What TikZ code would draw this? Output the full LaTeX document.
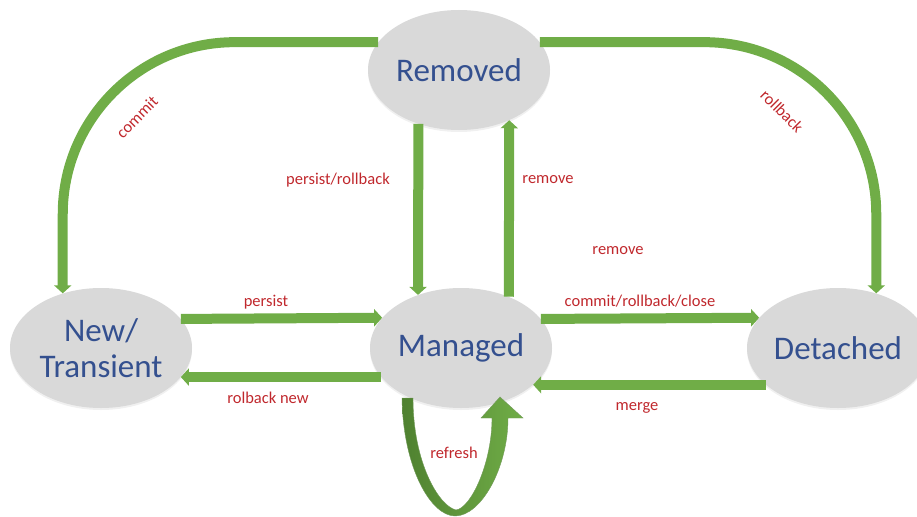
\documentclass[tikz,border=0pt]{standalone}
\usepackage{fontspec}
\setmainfont{Carlito}
\usetikzlibrary{arrows.meta,shapes.geometric,shadows}
\definecolor{grn}{HTML}{70AD47}
\definecolor{grndark}{HTML}{4F8130}
\definecolor{statefill}{HTML}{D9D9D9}
\definecolor{statetext}{HTML}{34508F}
\definecolor{lblred}{HTML}{C0282D}
\tikzset{
  state/.style={ellipse, fill=statefill, minimum width=182pt, minimum height=120pt,
    inner sep=0pt, text=statetext, align=center,
    font=\fontsize{33}{36}\selectfont,
    drop shadow={opacity=0.12, shadow xshift=0pt, shadow yshift=-2pt}},
  arr/.style={draw=grn, line width=10pt, -{Triangle[length=8pt,width=17pt]}},
  lbl/.style={text=lblred, inner sep=0pt, font=\fontsize{16.5}{18}\selectfont}
}
\begin{document}
\begin{tikzpicture}[x=1pt,y=-1pt]
\useasboundingbox (0,0) rectangle (917,516);

% states
\node[state] (removed)  at (459,70)  {Removed};
\node[state] (managed)  at (461,348) {Managed};
\node[state] (new)      at (101,348) {New/\\Transient};
\node[state] (detached) at (838,348) {Detached};

% horizontal transitions
\draw[arr] (new.20.84) -- (managed.159.16);
\draw[arr] (managed.200.84) -- (new.-20.84);
\draw[arr] (managed.20.84) -- (detached.159.16);
\draw[arr] (detached.207.33) -- (managed.-27.33);

% vertical transitions
\draw[arr] (removed.-127.4) -- (managed.129.1);
\draw[arr] (managed.47.6) -- (removed.-45.9);

% long arcs over the top
\draw[arr, rounded corners=172pt] (removed.161.6) -| (new.125.7);
\draw[arr, rounded corners=172pt] (removed.19.2) -| (detached.55.1);

% refresh loop under Managed
\begin{scope}[shift={(managed.center)}]
  \shade[left color=grndark, right color=grn, draw=grndark!80, line width=0.4pt]
    (-59,50) .. controls (-58,120) and (-30,168) .. (-6,168)
    .. controls (20,168) and (47,120) .. (47,70)
    -- (62,70) -- (39,49) -- (20,70) -- (31,70)
    .. controls (31,115) and (10,160) .. (-5,162)
    .. controls (-22,158) and (-48,115) .. (-48,50) -- cycle;
\end{scope}

% transition labels
\node[lbl] (lcommit)   at (137,117) [rotate=45] {commit};
\node[lbl] (lrollback) at (782,111) [rotate=-45] {rollback};
\node[lbl] (lpr)       at (338,180) {persist/rollback};
\node[lbl] (lrem)      at (548,180) {remove};
\node[lbl] (lrem2)     at (618,251) {remove};
\node[lbl] (lpersist)  at (266,302) {persist};
\node[lbl] (lrolnew)   at (268,398) {rolback new};
\node[lbl] (lcrc)      at (640,301) {commit/rollback/close};
\node[lbl] (lmerge)    at (637,408) {merge};
\node[lbl] (lrefresh)  at (454,453) {refresh};
\end{tikzpicture}
\end{document}
